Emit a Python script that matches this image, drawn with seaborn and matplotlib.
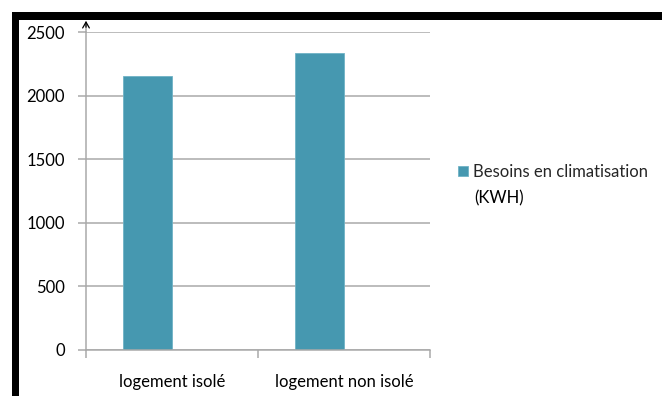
import matplotlib
matplotlib.use("Agg")
import matplotlib.pyplot as plt
from matplotlib.patches import Rectangle
import seaborn as sns
import pandas as pd

categories = ["logement isolé", "logement non isolé"]
values = [2160, 2340]
series_name = "Besoins en climatisation"
series_unit = "(KWH)"
y_ticks = [0, 500, 1000, 1500, 2000, 2500]

df = pd.DataFrame({"categorie": categories, "valeur": values})

sns.set_theme(style="white")
plt.rcParams["font.family"] = ["Lato", "DejaVu Sans"]

W, H = 662, 396
fig = plt.figure(figsize=(W / 100, H / 100), dpi=100)
ax = fig.add_axes([86 / W, 1 - 350 / H, (430 - 86) / W, (350 - 32.3) / H])

fs = 12
bar_color = "#4698B0"
bar_w = 0.285
sns.barplot(data=df, x="categorie", y="valeur", color=bar_color,
            width=bar_w, saturation=1, ax=ax, label=series_name)
# the bars sit on the left half of each category slot
for p in ax.patches:
    p.set_x(p.get_x() - bar_w / 2)
    p.set_edgecolor("#6fb3c6")
    p.set_linewidth(0.6)

ax.set_xlim(-0.5, 1.5)
ax.set_ylim(0, 2500)
ax.set_yticks(y_ticks)
ax.set_xlabel("")
ax.set_ylabel("")

grid_c = "#a9a9a9"
ax.yaxis.grid(True, color=grid_c, linewidth=1.1)
ax.set_axisbelow(True)
for s in ["top", "right"]:
    ax.spines[s].set_visible(False)
for s in ["left", "bottom"]:
    ax.spines[s].set_color(grid_c)
    ax.spines[s].set_linewidth(1.1)

ax.set_xticks([0, 1])
ax.set_xticklabels(categories, fontsize=fs)
ax.set_xticks([-0.5, 0.5, 1.5], minor=True)
ax.tick_params(axis="x", which="major", length=0, pad=17, colors="#000000")
ax.tick_params(axis="x", which="minor", bottom=True, length=6, width=1.1, color=grid_c)
ax.tick_params(axis="y", left=True, length=6, width=1.1, color=grid_c, pad=9,
               labelsize=fs, labelcolor="#000000")

# y axis extended upwards with an arrowhead
ax.annotate("", xy=(-0.5, 2580), xytext=(-0.5, 2500), xycoords="data",
            annotation_clip=False,
            arrowprops=dict(arrowstyle="-", color=grid_c, lw=1.1,
                            shrinkA=0, shrinkB=0))
ax.annotate("", xy=(-0.5, 2590), xytext=(-0.5, 2540), xycoords="data",
            annotation_clip=False,
            arrowprops=dict(arrowstyle="->,head_length=0.35,head_width=0.2",
                            color="#000000", lw=0.9, shrinkA=0, shrinkB=0))

leg = ax.legend(loc="upper left", bbox_to_anchor=(455 / W, 1 - 161 / H),
                bbox_transform=fig.transFigure, frameon=False, fontsize=fs,
                handlelength=0.55, handleheight=0.55, handletextpad=0.35,
                borderaxespad=0, borderpad=0.2)
fig.text(474 / W, 1 - 198 / H, series_unit, fontsize=fs, va="center", ha="left",
         color="#000000")

# heavy black frame along the top and left edges
fig.add_artist(Rectangle((12 / W, 1 - 20 / H), 1, 8 / H, transform=fig.transFigure,
                         facecolor="#000000", edgecolor="none"))
fig.add_artist(Rectangle((12 / W, 0), 7 / W, 1 - 12 / H, transform=fig.transFigure,
                         facecolor="#000000", edgecolor="none"))

fig.savefig("out.png", dpi=100)
